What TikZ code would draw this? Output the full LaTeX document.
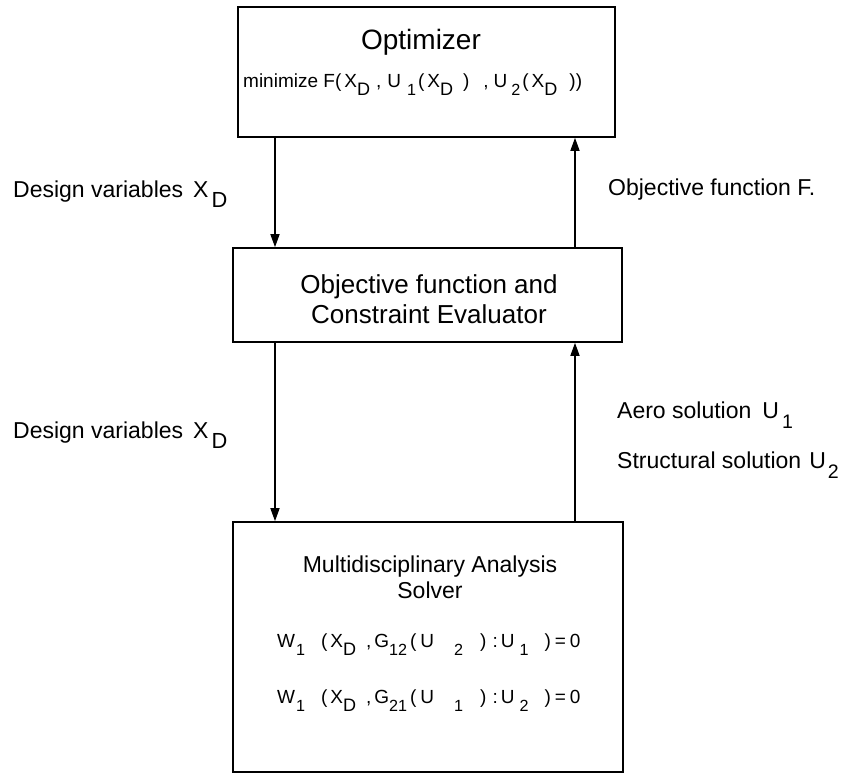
\documentclass[tikz,border=0pt]{standalone}
\usepackage{fontspec}
\setmainfont{Liberation Sans}
\usetikzlibrary{arrows.meta}
\newcommand{\sbs}[1]{\raisebox{-0.45em}{\scalebox{0.85}{#1}}}
\newcommand{\sbd}[1]{\raisebox{-0.45em}{\scalebox{0.95}{#1}}}
\newcommand{\hs}[1]{\hspace*{#1pt}}
\tikzset{
  box/.style={draw, line width=1.6pt, rectangle, inner sep=0pt},
  arr/.style={line width=1.5pt, -{Triangle[length=13pt,width=9pt]}},
  txt/.style={inner sep=0pt, anchor=base},
  lbl/.style={inner sep=0pt, anchor=base west, font=\fontsize{23}{26}\selectfont},
  eqn/.style={inner sep=0pt, anchor=base west, font=\fontsize{19}{22}\selectfont},
}
\begin{document}
\begin{tikzpicture}[x=1pt,y=-1pt]
\useasboundingbox (0,0) rectangle (844,774);
% boxes
\node[box, minimum width=377pt, minimum height=130pt] (opt) at (426.5,72) {};
\node[box, minimum width=389pt, minimum height=94pt] (mid) at (427.5,295) {};
\node[box, minimum width=390pt, minimum height=250pt] (mda) at (428,647) {};
% box texts
\node[txt, font=\fontsize{28}{32}\selectfont] (optt) at (421,49) {Optimizer};
\node[eqn] (optf) at (243,87)
  {minimize F(\hs{3}X\sbd{D}\hs{6},\hs{6}U\hs{6}\sbs{1}\hs{2}(\hs{3}X\sbd{D}\hs{10})\hs{14},\hs{5}U\hs{4}\sbs{2}\hs{2}(\hs{3}X\sbd{D}\hs{12}))};
\node[txt, font=\fontsize{26}{30}\selectfont] (midt1) at (429,293) {Objective function and};
\node[txt, font=\fontsize{26}{30}\selectfont] (midt2) at (429,323) {Constraint Evaluator};
\node[txt, font=\fontsize{23}{26}\selectfont] (mdat1) at (430,572) {Multidisciplinary Analysis};
\node[txt, font=\fontsize{23}{26}\selectfont] (mdat2) at (430,598) {Solver};
\node[eqn] (eq1) at (277,647)
  {W\hs{1}\sbs{1}\hs{16}(\hs{3}X\sbd{D}\hs{10},\hs{3}G\sbs{12}\hs{3}(\hs{4}U\hs{20}\sbs{2}\hs{17})\hs{6}:\hs{3}U\hs{5}\sbs{1}\hs{16})\hs{4}=\hs{4}0};
\node[eqn] (eq2) at (277,703)
  {W\hs{1}\sbs{1}\hs{16}(\hs{3}X\sbd{D}\hs{10},\hs{3}G\sbs{21}\hs{3}(\hs{4}U\hs{20}\sbs{1}\hs{17})\hs{6}:\hs{3}U\hs{5}\sbs{2}\hs{16})\hs{4}=\hs{4}0};
% side labels
\node[lbl] (l1) at (13,197) {Design variables\hs{10}X\hs{3}\sbd{D}};
\node[lbl] (l2) at (13,438) {Design variables\hs{10}X\hs{3}\sbd{D}};
\node[lbl] (r1) at (608,195) {Objective function F.};
\node[lbl] (r2) at (617,418) {Aero solution\hs{11}U\hs{3}\sbs{1}};
\node[lbl] (r3) at (617,468) {Structural solution\hs{8}U\hs{2}\sbs{2}};
% connectors
\coordinate (xl) at (275,0);
\coordinate (xr) at (575,0);
\draw[arr] (opt.south -| xl) -- (mid.north -| xl);
\draw[arr] (mid.north -| xr) -- (opt.south -| xr);
\draw[arr] (mid.south -| xl) -- (mda.north -| xl);
\draw[arr] (mda.north -| xr) -- (mid.south -| xr);
\end{tikzpicture}
\end{document}
